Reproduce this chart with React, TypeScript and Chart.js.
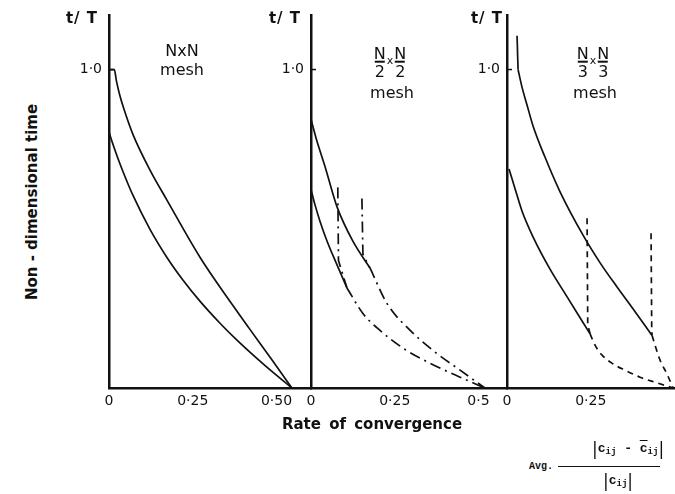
import React, { useEffect, useRef } from "react";
import { Chart, registerables } from "chart.js";

Chart.register(...registerables);

// ---------- axis ticks ----------
const yTickValues = [1.0];
const yTickLabels = ["1·0"];
const nxnTickValues = [0, 0.25, 0.5];
const nxnTickLabels = ["0", "0·25", "0·50"];
const halfTickValues = [0, 0.25, 0.5];
const halfTickLabels = ["0", "0·25", "0·5"];
const thirdTickValues = [0, 0.25];
const thirdTickLabels = ["0", "0·25"];

// ---------- N x N mesh ----------
const nxnUpperX = [0, 0.016, 0.022, 0.032, 0.048, 0.072, 0.122, 0.173, 0.272, 0.37, 0.418, 0.49, 0.546];
const nxnUpperY = [1.0, 1.0, 0.965, 0.92, 0.865, 0.795, 0.685, 0.59, 0.41, 0.259, 0.188, 0.083, 0];
const nxnLowerX = [0, 0.009, 0.027, 0.05, 0.072, 0.122, 0.173, 0.22, 0.272, 0.33, 0.382, 0.466, 0.546];
const nxnLowerY = [0.804, 0.774, 0.72, 0.658, 0.604, 0.499, 0.41, 0.34, 0.272, 0.205, 0.15, 0.07, 0];

// ---------- N/2 x N/2 mesh ----------
const halfUpperX = [0, 0.015, 0.042, 0.078, 0.125, 0.176];
const halfUpperY = [0.844, 0.785, 0.695, 0.568, 0.461, 0.377];
const halfLowerX = [0, 0.012, 0.027, 0.048, 0.078, 0.107];
const halfLowerY = [0.623, 0.575, 0.523, 0.461, 0.386, 0.315];
const halfDropAX = [0.08, 0.082, 0.107];
const halfDropAY = [0.63, 0.4, 0.315];
const halfDropBX = [0.152, 0.155, 0.176];
const halfDropBY = [0.595, 0.42, 0.377];
const halfTailAX = [0.107, 0.155, 0.206, 0.275, 0.355, 0.445, 0.519];
const halfTailAY = [0.315, 0.234, 0.181, 0.125, 0.078, 0.034, 0];
const halfTailBX = [0.176, 0.227, 0.296, 0.364, 0.445, 0.519];
const halfTailBY = [0.377, 0.265, 0.181, 0.118, 0.056, 0];

// ---------- N/3 x N/3 mesh ----------
const thirdTopX = [0.03, 0.033];
const thirdTopY = [1.106, 1.0];
const thirdUpperX = [0.033, 0.045, 0.06, 0.078, 0.113, 0.158, 0.227, 0.278, 0.328, 0.376, 0.433];
const thirdUpperY = [1.0, 0.944, 0.888, 0.822, 0.726, 0.617, 0.48, 0.393, 0.318, 0.249, 0.165];
const thirdLowerX = [0.006, 0.024, 0.045, 0.078, 0.128, 0.179, 0.248];
const thirdLowerY = [0.688, 0.626, 0.555, 0.474, 0.374, 0.287, 0.17];
const thirdDropCX = [0.239, 0.241, 0.248];
const thirdDropCY = [0.533, 0.2, 0.17];
const thirdDropDX = [0.43, 0.432, 0.433];
const thirdDropDY = [0.486, 0.19, 0.165];
const thirdTailCX = [0.248, 0.262, 0.282, 0.316, 0.352, 0.397, 0.448, 0.496];
const thirdTailCY = [0.17, 0.136, 0.105, 0.076, 0.056, 0.034, 0.016, 0];
const thirdTailDX = [0.433, 0.442, 0.457, 0.477, 0.496];
const thirdTailDY = [0.165, 0.134, 0.087, 0.045, 0];

// ---------- layout (styles only) ----------
const INK = "#111";
const PX_PER_X = 335;
const PX_PER_Y = 321;
const Y_MAX = 1.17;
const BASE_Y = 388;
const DASH_DOT = [11, 5, 2, 5];
const DASHED = [6, 5];

type Series = { xs: number[]; ys: number[]; dash?: number[]; smooth?: boolean };

const innerTick = {
  id: "innerTick",
  afterDraw(chart: any) {
    const { ctx, chartArea } = chart;
    const ys = chart.scales.y;
    ctx.save();
    ctx.strokeStyle = INK;
    ctx.lineWidth = 1.5;
    yTickValues.forEach((v) => {
      const y = ys.getPixelForValue(v);
      ctx.beginPath();
      ctx.moveTo(chartArea.left, y);
      ctx.lineTo(chartArea.left + 5, y);
      ctx.stroke();
    });
    ctx.restore();
  },
};

function Panel(props: {
  axisX: number;
  xMax: number;
  series: Series[];
  tickValues: number[];
  tickLabels: string[];
}) {
  const { axisX, xMax, series, tickValues, tickLabels } = props;
  const ref = useRef<HTMLCanvasElement>(null);
  const LEFT = 44;
  const RIGHT = 3;
  const BOTTOM = 34;
  const plotW = xMax * PX_PER_X;
  const top = BASE_Y - Y_MAX * PX_PER_Y;
  const width = Math.round(LEFT + plotW + RIGHT);
  const height = BASE_Y + BOTTOM;

  useEffect(() => {
    if (!ref.current) return;
    const chart = new Chart(ref.current, {
      type: "line",
      data: {
        datasets: series.map((s) => ({
          data: s.xs.map((x, i) => ({ x, y: s.ys[i] })),
          borderColor: INK,
          borderWidth: 1.7,
          borderDash: s.dash ?? [],
          pointRadius: 0,
          fill: false,
          tension: s.smooth ? 0.4 : 0,
          cubicInterpolationMode: s.smooth ? "monotone" : "default",
        })),
      },
      options: {
        responsive: false,
        animation: false,
        events: [],
        layout: { padding: { left: 0, right: width - LEFT - plotW, top, bottom: 0 } },
        plugins: { legend: { display: false }, tooltip: { enabled: false } },
        scales: {
          x: {
            type: "linear",
            min: 0,
            max: xMax,
            grid: { display: false, drawTicks: false },
            border: { display: true, color: INK, width: 2.5 },
            afterBuildTicks: (s: any) => {
              s.ticks = tickValues.map((v) => ({ value: v }));
            },
            afterFit: (s: any) => {
              s.height = BOTTOM;
            },
            ticks: {
              padding: 5,
              color: INK,
              autoSkip: false,
              maxRotation: 0,
              font: { family: "DejaVu Sans", size: 14 },
              callback: (v: any) => tickLabels[tickValues.indexOf(Number(v))] ?? "",
            },
          },
          y: {
            type: "linear",
            min: 0,
            max: Y_MAX,
            grid: { display: false, drawTicks: false },
            border: { display: true, color: INK, width: 2.5 },
            afterBuildTicks: (s: any) => {
              s.ticks = yTickValues.map((v) => ({ value: v }));
            },
            afterFit: (s: any) => {
              s.width = LEFT;
            },
            ticks: {
              padding: 7,
              color: INK,
              font: { family: "DejaVu Sans", size: 14 },
              callback: (v: any) => yTickLabels[yTickValues.indexOf(Number(v))] ?? "",
            },
          },
        },
      } as any,
      plugins: [innerTick],
    });
    return () => chart.destroy();
  }, []);

  return (
    <canvas
      ref={ref}
      width={width}
      height={height}
      style={{ position: "absolute", left: axisX - LEFT, top: 0, width, height }}
    />
  );
}

function Frac({ d }: { d: string }) {
  return (
    <span style={{ display: "inline-flex", flexDirection: "column", alignItems: "center", lineHeight: "13px" }}>
      <span>N</span>
      <span style={{ width: 10, height: 1.6, background: INK, margin: "1px 0 2px" }} />
      <span>{d}</span>
    </span>
  );
}

function MeshTitle({ cx, d }: { cx: number; d: string }) {
  return (
    <>
      <div
        style={{
          position: "absolute",
          left: cx,
          top: 62,
          transform: "translate(-50%,-50%)",
          display: "flex",
          alignItems: "center",
          fontSize: 16,
        }}
      >
        <Frac d={d} />
        <span style={{ fontSize: 11, margin: "0 1px", position: "relative", top: -2 }}>x</span>
        <Frac d={d} />
      </div>
      <div style={{ position: "absolute", left: cx + 2, top: 92, transform: "translate(-50%,-50%)", fontSize: 16 }}>
        mesh
      </div>
    </>
  );
}

const text = (x: number, y: number, extra: any = {}) => ({
  position: "absolute" as const,
  left: x,
  top: y,
  transform: "translate(-50%,-50%)",
  whiteSpace: "nowrap" as const,
  ...extra,
});

const mono = {
  fontFamily: "Liberation Mono, DejaVu Sans Mono, monospace",
  fontWeight: "bold" as const,
  fontSize: 13,
  whiteSpace: "nowrap" as const,
  display: "flex",
  alignItems: "center",
  lineHeight: "16px",
};
const bar = { fontSize: 17, fontWeight: "normal" as const, fontFamily: "DejaVu Sans" };
const sub = { fontSize: 9, position: "relative" as const, top: 3 };

export default function App() {
  const nxnSeries: Series[] = [
    { xs: nxnUpperX, ys: nxnUpperY, smooth: true },
    { xs: nxnLowerX, ys: nxnLowerY, smooth: true },
  ];
  const halfSeries: Series[] = [
    { xs: halfUpperX, ys: halfUpperY, smooth: true },
    { xs: halfLowerX, ys: halfLowerY, smooth: true },
    { xs: halfDropAX, ys: halfDropAY, dash: DASH_DOT },
    { xs: halfDropBX, ys: halfDropBY, dash: DASH_DOT },
    { xs: halfTailAX, ys: halfTailAY, dash: DASH_DOT, smooth: true },
    { xs: halfTailBX, ys: halfTailBY, dash: DASH_DOT, smooth: true },
  ];
  const thirdSeries: Series[] = [
    { xs: thirdTopX, ys: thirdTopY },
    { xs: thirdUpperX, ys: thirdUpperY, smooth: true },
    { xs: thirdLowerX, ys: thirdLowerY, smooth: true },
    { xs: thirdDropCX, ys: thirdDropCY, dash: DASHED },
    { xs: thirdDropDX, ys: thirdDropDY, dash: DASHED },
    { xs: thirdTailCX, ys: thirdTailCY, dash: DASHED, smooth: true },
    { xs: thirdTailDX, ys: thirdTailDY, dash: DASHED, smooth: true },
  ];

  return (
    <div
      style={{
        position: "absolute",
        left: 0,
        top: 0,
        width: 675,
        height: 494,
        background: "#fff",
        overflow: "hidden",
        color: INK,
        fontFamily: "DejaVu Sans, sans-serif",
      }}
    >
      <Panel axisX={109} xMax={0.603} series={nxnSeries} tickValues={nxnTickValues} tickLabels={nxnTickLabels} />
      <Panel axisX={311} xMax={0.588} series={halfSeries} tickValues={halfTickValues} tickLabels={halfTickLabels} />
      <Panel axisX={507} xMax={0.502} series={thirdSeries} tickValues={thirdTickValues} tickLabels={thirdTickLabels} />

      <div style={text(82, 18, { fontSize: 15, fontWeight: "bold", letterSpacing: 1 })}>t/ T</div>
      <div style={text(285, 18, { fontSize: 15, fontWeight: "bold", letterSpacing: 1 })}>t/ T</div>
      <div style={text(487, 18, { fontSize: 15, fontWeight: "bold", letterSpacing: 1 })}>t/ T</div>

      <div style={text(182, 50, { fontSize: 16 })}>NxN</div>
      <div style={text(182, 69, { fontSize: 16 })}>mesh</div>
      <MeshTitle cx={390} d="2" />
      <MeshTitle cx={593} d="3" />

      <div style={text(32, 202, { fontSize: 15, fontWeight: "bold", transform: "translate(-50%,-50%) rotate(-90deg)" })}>
        Non - dimensional time
      </div>
      <div style={text(372, 424, { fontSize: 15, fontWeight: "bold", wordSpacing: 3 })}>Rate of convergence</div>

      <div style={text(541, 466, { fontSize: 10, fontWeight: "bold", fontFamily: "Liberation Mono, monospace" })}>Avg.</div>
      <div style={{ position: "absolute", left: 558, top: 466, width: 102, height: 1, background: INK }} />
      <div style={{ position: "absolute", left: 592, top: 441, ...mono }}>
        <span style={bar}>|</span>
        <span>c</span>
        <span style={sub}>ij</span>
        <span>&nbsp;-&nbsp;</span>
        <span style={{ textDecoration: "overline" }}>c</span>
        <span style={sub}>ij</span>
        <span style={bar}>|</span>
      </div>
      <div style={{ position: "absolute", left: 603, top: 473, ...mono }}>
        <span style={bar}>|</span>
        <span>c</span>
        <span style={sub}>ij</span>
        <span style={bar}>|</span>
      </div>
    </div>
  );
}
